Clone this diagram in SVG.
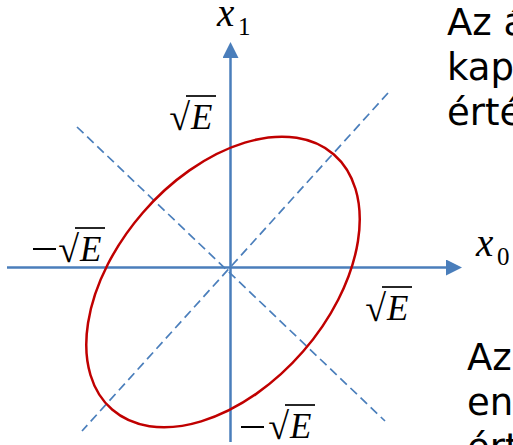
<svg xmlns="http://www.w3.org/2000/svg" width="513" height="445" viewBox="0 0 513 445">
<style>
.axis{stroke:#4A7EBB;stroke-width:2.5;fill:none}
.diag{stroke:#4A7EBB;stroke-width:1.7;stroke-dasharray:9 5;fill:none}
.ell{stroke:#C00000;stroke-width:2.5;fill:none}
.m{font-family:"Liberation Serif",serif;font-size:35px;fill:#000}
.mi{font-style:italic}
.vx{font-size:39px}
.sub{font-size:25px}
.rad{font-family:"Liberation Serif",serif;font-size:38px;fill:#000}
.vin{stroke:#000;stroke-width:1.7}
.txt{font-family:"DejaVu Sans",sans-serif;font-size:37px;fill:#000}
</style>
<defs>
<marker id="arr" viewBox="0 0 16 16" refX="1" refY="8" markerWidth="16" markerHeight="16" orient="auto" markerUnits="userSpaceOnUse">
<path d="M0,0 L16,8 L0,16 z" fill="#4A7EBB"/>
</marker>
<g id="sqrtE">
<text class="rad" x="-1" y="1" text-anchor="end">√</text>
<line class="vin" x1="-5" y1="-33" x2="25" y2="-33"/>
<text class="m mi" x="0" y="0">E</text>
</g>
</defs>
<g id="connectors">
<line class="axis" x1="7" y1="267.5" x2="447" y2="267.5" marker-end="url(#arr)"/>
<line class="axis" x1="230.5" y1="442" x2="230.5" y2="57" marker-end="url(#arr)"/>
<line class="diag" x1="77" y1="127" x2="385" y2="421"/>
<line class="diag" x1="388" y1="93" x2="82" y2="431"/>
</g>
<g id="ellipse">
<ellipse class="ell" cx="223" cy="282" rx="169" ry="106" transform="rotate(-49 223 282)"/>
</g>
<g id="label-x1">
<text class="m mi vx" x="217" y="26">x</text>
<text class="m sub" x="238" y="35">1</text>
</g>
<g id="label-x0">
<text class="m mi vx" x="476" y="256">x</text>
<text class="m sub" x="497" y="265">0</text>
</g>
<g id="label-sqrtE-top"><use href="#sqrtE" x="191" y="129"/></g>
<g id="label-negsqrtE-left">
<line class="vin" x1="33" y1="249" x2="56" y2="249" style="stroke-width:2"/>
<use href="#sqrtE" x="80" y="261"/>
</g>
<g id="label-sqrtE-right"><use href="#sqrtE" x="387" y="320"/></g>
<g id="label-negsqrtE-bottom">
<line class="vin" x1="241" y1="427" x2="264" y2="427" style="stroke-width:2"/>
<use href="#sqrtE" x="290" y="438"/>
</g>
<g id="text-right">
<text class="txt" x="447" y="35">Az á</text>
<text class="txt" x="447" y="80">kap</text>
<text class="txt" x="447" y="125">érté</text>
<text class="txt" x="467" y="370">Az</text>
<text class="txt" x="467" y="415">en</text>
<text class="txt" x="467" y="460">ért</text>
</g>
</svg>
